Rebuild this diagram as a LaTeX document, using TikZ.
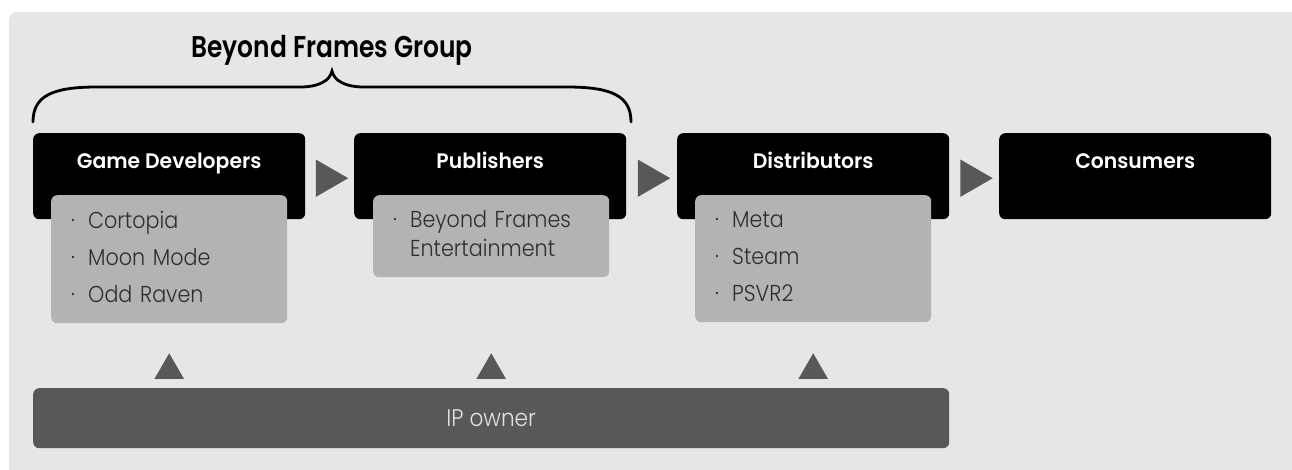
\documentclass[tikz,border=0pt]{standalone}
\usepackage{fontspec}
\setmainfont{Poppins}
\newfontfamily\headfont{Poppins SemiBold}[FakeStretch=0.97]
\newfontfamily\titlefont{Poppins SemiBold}[FakeStretch=0.83]
\newfontfamily\lightfont{Poppins Light}[FakeStretch=0.9]
\usetikzlibrary{positioning, shapes.geometric, calc}

\definecolor{bgGray}{HTML}{E6E6E6}
\definecolor{listGray}{HTML}{B3B3B3}
\definecolor{darkGray}{HTML}{585857}
\definecolor{itemText}{HTML}{2E2E2E}
\definecolor{barText}{HTML}{E2E2E2}

\newcommand{\bfdot}{\textperiodcentered}

\tikzset{
  stage/.style    = {fill=black, rounded corners=6pt, anchor=north west, inner xsep=0pt, inner ysep=0pt,
                     minimum width=272pt, text=white, font=\headfont\fontsize{21}{25}\selectfont,
                     text height=35pt, text depth=51pt},
  listbox/.style  = {fill=listGray, rounded corners=6pt, anchor=north west, inner xsep=20pt, inner ysep=0pt,
                     text width=196pt, minimum width=236pt, text=itemText,
                     font=\lightfont\fontsize{23}{29}\selectfont},
  flowtri/.style  = {fill=darkGray, regular polygon, regular polygon sides=3, regular polygon rotate=-90,
                     minimum size=43pt, inner sep=0pt},
  uptri/.style    = {fill=darkGray, regular polygon, regular polygon sides=3,
                     minimum size=34pt, inner sep=0pt, anchor=south},
}

\begin{document}
\begin{tikzpicture}[x=1pt, y=-1pt]

\useasboundingbox (0,0) rectangle (1292,469);
\fill [bgGray, rounded corners=8pt] (9,12) rectangle (1300,480);

% group title and brace over developers + publishers
\node [font=\titlefont\fontsize{30}{35}\selectfont, text=black] (group) at (332,50) {Beyond Frames Group};
\draw [line width=2.8pt, line cap=round]
  (33,122) .. controls (33,96) and (52,87) .. (97,87) -- (300,87)
  .. controls (320,87) and (330,80) .. (332,71)
  .. controls (334,80) and (344,87) .. (364,87) -- (567,87)
  .. controls (612,87) and (631,96) .. (631,122);

% value chain
\node [stage] (dev)  at (33,133)  {Game Developers};
\node [stage] (pub)  at (354,133) {Publishers};
\node [stage] (dist) at (677,133) {Distributors};
\node [stage] (cons) at (999,133) {Consumers};

\node [listbox, minimum height=128pt] (devlist) at (51,195)
  {\begin{tabular}{@{}p{17pt}@{}l@{}}
   \bfdot & Cortopia   \\[8pt]
   \bfdot & Moon Mode  \\[8pt]
   \bfdot & Odd Raven
   \end{tabular}};
\node [listbox, minimum height=82pt] (publist) at (373,195)
  {\begin{tabular}{@{}p{17pt}@{}l@{}}
   \bfdot & Beyond Frames \\
          & Entertainment
   \end{tabular}};
\node [listbox, minimum height=127pt] (distlist) at (695,195)
  {\begin{tabular}{@{}p{17pt}@{}l@{}}
   \bfdot & Meta  \\[8pt]
   \bfdot & Steam \\[8pt]
   \bfdot & PSVR2
   \end{tabular}};

\node [flowtri, xshift=-3pt, yshift=-2pt] (t1) at ($(dev.east)!0.5!(pub.west)$)   {};
\node [flowtri, xshift=-3pt, yshift=-2pt] (t2) at ($(pub.east)!0.5!(dist.west)$)  {};
\node [flowtri, xshift=-3pt, yshift=-2pt] (t3) at ($(dist.east)!0.5!(cons.west)$) {};

% IP owner feeds the first three stages
\node [fill=darkGray, rounded corners=6pt, anchor=north west, minimum width=916pt, minimum height=60pt,
       inner sep=0pt, text=barText, font=\lightfont\fontsize{24}{28}\selectfont] (ip) at (33,388) {IP owner};

\node [uptri, yshift=9pt] (u1) at (devlist.south |- ip.north)  {};
\node [uptri, yshift=9pt] (u2) at (publist.south |- ip.north)  {};
\node [uptri, yshift=9pt] (u3) at (distlist.south |- ip.north) {};

\end{tikzpicture}
\end{document}
